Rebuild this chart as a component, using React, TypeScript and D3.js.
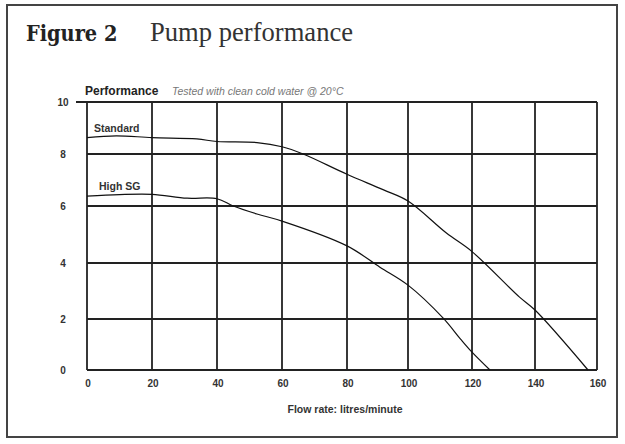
import { useRef, useEffect } from 'react';
import * as d3 from 'd3';

// Flow rate ticks (litres/minute) and head ticks
const flowTicks = [0, 20, 40, 60, 80, 100, 120, 140, 160];
const headTicks = [0, 2, 4, 6, 8, 10];

// Standard pump curve: [flow, head]
const standardCurve: [number, number][] = [
  [0, 8.63], [9, 8.7], [20, 8.63], [33.8, 8.58], [40, 8.48], [52.3, 8.44],
  [60, 8.28], [66.5, 8.0], [80, 7.22], [92, 6.62], [100, 6.19], [112, 5.05],
  [120, 4.4], [135, 2.79], [140, 2.32], [157.1, 0],
];

// High SG pump curve
const highSgCurve: [number, number][] = [
  [0, 6.38], [10, 6.44], [20, 6.45], [30.8, 6.3], [40, 6.28], [45, 6.0],
  [52.3, 5.72], [60, 5.47], [80, 4.6], [90.8, 3.85], [100, 3.21],
  [111, 2.03], [116.5, 1.2], [120, 0.7], [125.7, 0],
];

const seriesLabels = ['Standard', 'High SG'];

const W = 625;
const H = 444;
const SANS = "'Liberation Sans', Arial, sans-serif";

const PumpChart = () => {
  const svgRef = useRef<SVGSVGElement>(null);

  useEffect(() => {
    if (!svgRef.current) return;
    const svg = d3.select(svgRef.current);
    svg.selectAll('*').remove();

    // the printed grid is slightly uneven, so the scales are piecewise
    const x = d3.scaleLinear().domain(flowTicks).range([87, 152, 217, 282, 347, 408, 472, 535, 597]);
    const y = d3.scaleLinear().domain(headTicks).range([370, 319, 263, 206, 154, 102]);

    // frame
    svg.append('rect')
      .attr('x', 7).attr('y', 5)
      .attr('width', 610).attr('height', 432)
      .attr('fill', '#fff')
      .attr('stroke', '#444')
      .attr('stroke-width', 2);

    // heading
    svg.append('text')
      .attr('x', 26).attr('y', 41)
      .attr('font-family', "'DejaVu Serif Condensed', 'Liberation Serif', serif")
      .attr('font-weight', 'bold')
      .attr('font-size', '21.5px')
      .attr('fill', '#222')
      .text('Figure 2');

    svg.append('text')
      .attr('x', 150).attr('y', 41)
      .attr('font-family', "'Liberation Serif', serif")
      .attr('font-size', '26.6px')
      .attr('fill', '#333')
      .text('Pump performance');

    // chart title
    svg.append('text')
      .attr('x', 85).attr('y', 95)
      .attr('font-family', SANS)
      .attr('font-weight', 'bold')
      .attr('font-size', '12px')
      .attr('fill', '#222')
      .text('Performance');

    svg.append('text')
      .attr('x', 172).attr('y', 95)
      .attr('font-family', SANS)
      .attr('font-style', 'italic')
      .attr('font-size', '10.5px')
      .attr('fill', '#777')
      .text('Tested with clean cold water @ 20°C');

    const g = svg.append('g');

    // grid
    g.selectAll('line.v')
      .data(flowTicks)
      .join('line')
      .attr('x1', (d) => x(d)).attr('x2', (d) => x(d))
      .attr('y1', y(10)).attr('y2', y(0))
      .attr('stroke', '#222')
      .attr('stroke-width', 1.8);

    g.selectAll('line.h')
      .data(headTicks)
      .join('line')
      .attr('x1', (d) => (d === 10 ? x(0) - 11 : x(0)))
      .attr('x2', x(160))
      .attr('y1', (d) => y(d)).attr('y2', (d) => y(d))
      .attr('stroke', '#222')
      .attr('stroke-width', 1.8);

    // tick labels
    svg.append('g')
      .selectAll('text')
      .data(headTicks)
      .join('text')
      .attr('x', 63)
      .attr('y', (d) => y(d))
      .attr('dy', '0.36em')
      .attr('text-anchor', 'middle')
      .attr('font-family', SANS)
      .attr('font-weight', 'bold')
      .attr('font-size', '10px')
      .attr('fill', '#333')
      .text((d) => d);

    svg.append('g')
      .selectAll('text')
      .data(flowTicks)
      .join('text')
      .attr('x', (d) => x(d) + 1)
      .attr('y', 387)
      .attr('text-anchor', 'middle')
      .attr('font-family', SANS)
      .attr('font-weight', 'bold')
      .attr('font-size', '10px')
      .attr('fill', '#333')
      .text((d) => d);

    svg.append('text')
      .attr('x', (x(60) + x(100)) / 2)
      .attr('y', 413)
      .attr('text-anchor', 'middle')
      .attr('font-family', SANS)
      .attr('font-weight', 'bold')
      .attr('font-size', '10.5px')
      .attr('fill', '#333')
      .text('Flow rate: litres/minute');

    // curves
    const line = d3.line<[number, number]>()
      .x((d) => x(d[0]))
      .y((d) => y(d[1]))
      .curve(d3.curveCatmullRom.alpha(0.5));

    [standardCurve, highSgCurve].forEach((pts) => {
      g.append('path')
        .attr('d', line(pts))
        .attr('fill', 'none')
        .attr('stroke', '#111')
        .attr('stroke-width', 1.2);
    });

    // curve labels, just above each curve's start
    [standardCurve, highSgCurve].forEach((pts, i) => {
      svg.append('text')
        .attr('x', i === 0 ? 94 : 99)
        .attr('y', y(pts[0][1]) - 6)
        .attr('font-family', SANS)
        .attr('font-weight', 'bold')
        .attr('font-size', '10.5px')
        .attr('fill', '#333')
        .text(seriesLabels[i]);
    });
  }, []);

  return (
    <svg
      ref={svgRef}
      width={W}
      height={H}
      style={{ position: 'absolute', left: 0, top: 0, background: '#fff' }}
    />
  );
};

export default function App() {
  return <PumpChart />;
}
